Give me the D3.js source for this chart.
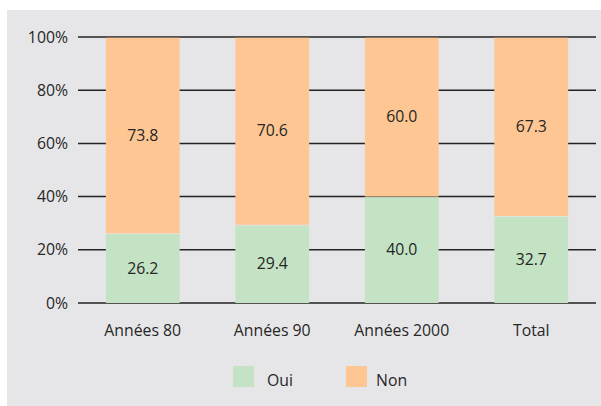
<!DOCTYPE html>
<html>
<head>
<meta charset="utf-8">
<script src="https://cdn.jsdelivr.net/npm/d3@7"></script>
<style>
  body { margin: 0; background: #fff; }
  text { font-family: "Open Sans", sans-serif; fill: #262626; }
</style>
</head>
<body>
<div id="mainDiv"></div>
<script>
const categories = ["Années 80", "Années 90", "Années 2000", "Total"];
const ouiValues = [26.2, 29.4, 40.0, 32.7];
const nonValues = [73.8, 70.6, 60.0, 67.3];
const yTicks = [0, 20, 40, 60, 80, 100];
const seriesNames = ["Oui", "Non"];
const seriesColors = ["#c4e3c4", "#fec693"];

const chart = {
  width: 601,
  height: 406,
  margin: { top: 37, right: 5, bottom: 103, left: 78 },
  fontSize: 15.8,
};

const svg = d3.select("#mainDiv")
  .append("svg")
  .attr("width", chart.width)
  .attr("height", chart.height);

// panel background
svg.append("rect")
  .attr("x", 7)
  .attr("y", 10)
  .attr("width", chart.width - 7)
  .attr("height", chart.height - 10)
  .attr("fill", "#e6e6e8");

let x = d3.scaleBand()
  .domain(categories)
  .range([chart.margin.left, chart.width - chart.margin.right])
  .paddingInner(0.43)
  .paddingOuter(0.215);

let y = d3.scaleLinear()
  .domain([0, 100])
  .range([chart.height - chart.margin.bottom, chart.margin.top]);

// grid lines
svg.append("g")
  .selectAll("line")
  .data(yTicks)
  .join("line")
  .attr("x1", chart.margin.left)
  .attr("x2", chart.width - chart.margin.right)
  .attr("y1", d => y(d))
  .attr("y2", d => y(d))
  .attr("stroke", "#222")
  .attr("stroke-width", 1.5);

// stacked bars
const rows = categories.map((c, i) => ({ cat: c, Oui: ouiValues[i], Non: nonValues[i] }));
const stacked = d3.stack().keys(seriesNames)(rows);

const layers = svg.append("g")
  .selectAll("g")
  .data(stacked)
  .join("g")
  .attr("fill", (d, i) => seriesColors[i]);

layers.selectAll("rect")
  .data(d => d)
  .join("rect")
  .attr("x", d => x(d.data.cat))
  .attr("y", d => y(d[1]) + 0.75)
  .attr("width", x.bandwidth())
  .attr("height", d => y(d[0]) - y(d[1]) - 0.75);

layers.selectAll("text")
  .data(d => d)
  .join("text")
  .attr("x", d => x(d.data.cat) + x.bandwidth() / 2)
  .attr("y", d => (y(d[0]) + y(d[1])) / 2)
  .attr("dy", "0.35em")
  .attr("text-anchor", "middle")
  .attr("font-size", chart.fontSize)
  .text(d => (d[1] - d[0]).toFixed(1));

// y axis labels
svg.append("g")
  .selectAll("text")
  .data(yTicks)
  .join("text")
  .attr("x", 68)
  .attr("y", d => y(d))
  .attr("dy", "0.35em")
  .attr("text-anchor", "end")
  .attr("font-size", chart.fontSize)
  .text(d => d + "%");

// x axis labels
svg.append("g")
  .selectAll("text")
  .data(categories)
  .join("text")
  .attr("x", d => x(d) + x.bandwidth() / 2)
  .attr("y", 330)
  .attr("dy", "0.35em")
  .attr("text-anchor", "middle")
  .attr("font-size", chart.fontSize)
  .text(d => d);

// legend
const legendX = [233, 346];
const legendTextX = [267, 376];
const legend = svg.append("g")
  .selectAll("g")
  .data(seriesNames)
  .join("g");

legend.append("rect")
  .attr("x", (d, i) => legendX[i])
  .attr("y", 366)
  .attr("width", 21)
  .attr("height", 21)
  .attr("fill", (d, i) => seriesColors[i]);

legend.append("text")
  .attr("x", (d, i) => legendTextX[i])
  .attr("y", 380)
  .attr("dy", "0.35em")
  .attr("font-size", chart.fontSize)
  .text(d => d);
</script>
</body>
</html>
